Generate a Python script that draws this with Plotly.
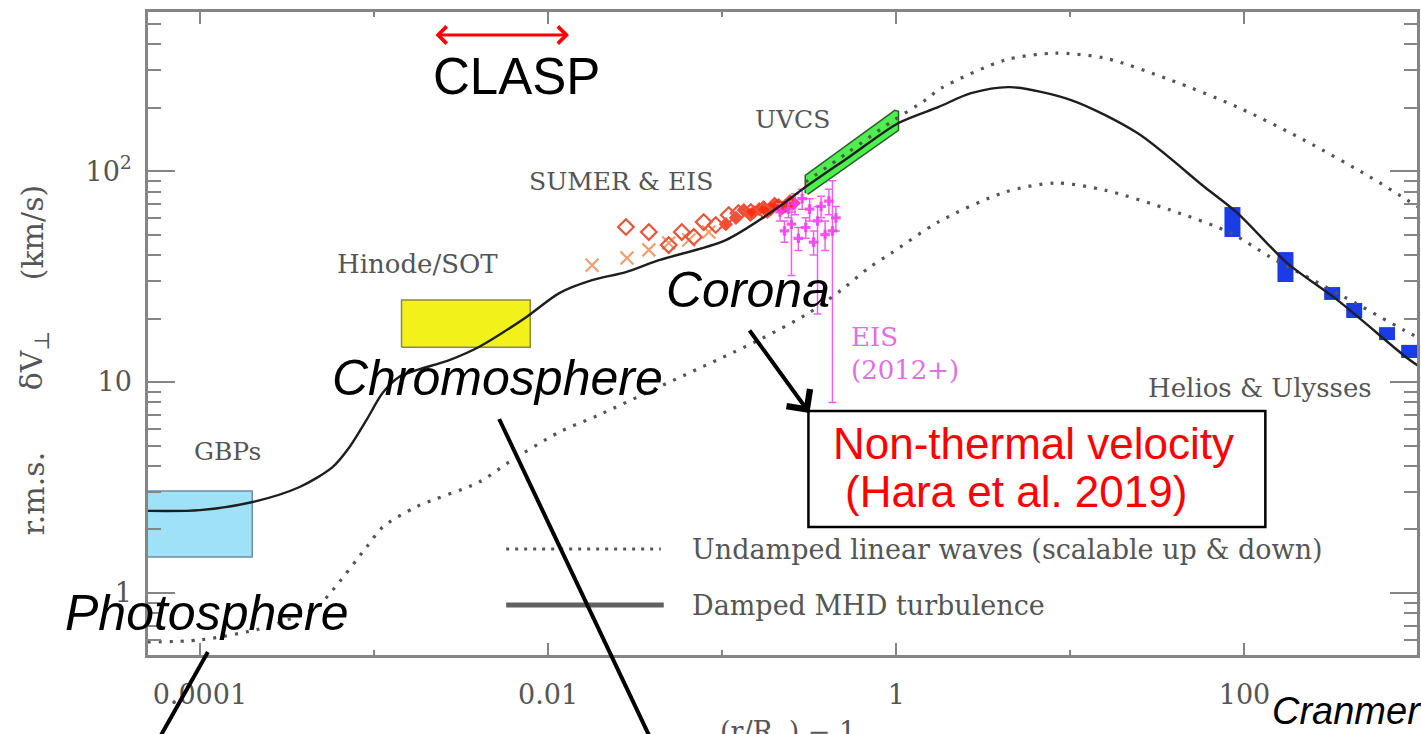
import plotly.graph_objects as go

# ---------------- model curves: (r/R_sun) - 1  vs  rms dV_perp [km/s] ----------------
turb_r = [5.0e-5, 1.0e-4, 2.01e-4, 3.74e-4, 5.78e-4, 7.24e-4, 9.06e-4, 1.12e-3, 1.40e-3,
          2.71e-3, 4.03e-3, 7.48e-3, 0.0116, 0.0179, 0.0280, 0.0433, 0.105, 0.211, 0.301,
          0.531, 1.03, 1.74, 2.69, 4.50, 10.1, 24.4, 59.0, 91.2, 176, 341, 859, 1000]
turb_v = [2.45, 2.47, 2.70, 3.18, 3.95, 4.92, 6.61, 8.87, 10.6,
          12.7, 14.7, 20.3, 26.4, 30.4, 33.2, 37.8, 47.1, 67.5, 84.0,
          116, 169, 201, 234, 250, 217, 151, 84.0, 63.2, 36.6, 24.5, 13.0, 11.9]

wave_lo_r = [5.0e-5, 1.0e-4, 2.42e-4, 4.68e-4, 5.78e-4, 9.06e-4, 1.12e-3, 1.75e-3, 4.03e-3,
             5.98e-3, 0.0116, 0.0196, 0.0433, 0.162, 0.313, 0.484, 0.692, 0.936, 1.74,
             4.22, 8.15, 15.8, 37.7, 83.2, 141, 341, 826, 1000]
wave_lo_v = [0.586, 0.599, 0.690, 0.859, 1.03, 1.65, 2.05, 2.56, 3.36,
             4.18, 5.79, 6.98, 9.47, 15.8, 21.2, 27.3, 34.7, 40.8, 57.3,
             79.5, 87.7, 81.2, 65.3, 50.9, 39.1, 26.4, 17.6, 16.2]

wave_hi_r = [0.301, 0.531, 0.936, 1.47, 1.81, 4.22, 8.15, 15.8, 37.7, 91.2, 221, 527, 859, 1000]
wave_hi_v = [88.7, 123, 171, 217, 247, 336, 362, 343, 270, 201, 140, 93.7, 72.9, 67.5]

# ---------------- observational constraints ----------------
gbp_r = [4.5e-5, 2.0e-4]
gbp_v = [1.48, 3.04]

sot_r = [1.44e-3, 7.9e-3]
sot_v = [14.6, 24.5]

uvcs_r = [0.30, 0.30, 0.33, 0.98, 1.03, 1.03, 0.31]
uvcs_v = [78.5, 95.5, 101, 194, 192, 156, 77.5]

sumer_open_r = [0.0280, 0.0379, 0.0493, 0.0586, 0.0687, 0.0783, 0.0918, 0.109, 0.124, 0.146, 0.173]
sumer_open_v = [54.3, 51.4, 44.6, 51.4, 48.7, 57.3, 55.5, 61.9, 63.2, 63.9, 65.3]

sumer_x_r = [0.0179, 0.0284, 0.0379, 0.0493, 0.0643, 0.0838]
sumer_x_v = [35.8, 38.7, 42.3, 45.6, 47.1, 51.4]

sumer_fill_r = [0.105, 0.120, 0.133, 0.145, 0.152, 0.163, 0.173, 0.182, 0.190, 0.200,
                0.211, 0.222, 0.231, 0.245, 0.257]
sumer_fill_v = [56, 60, 65.3, 62, 63.9, 66, 67.5, 64, 66.1, 70, 69.0, 67, 68.3, 72, 70.5]

eis_r = [0.215, 0.228, 0.240, 0.250, 0.262, 0.274, 0.288, 0.302, 0.318, 0.335, 0.353,
         0.370, 0.390, 0.410, 0.430, 0.450]
eis_v = [64, 52, 66, 56, 70, 48, 74, 54, 66, 46, 58, 68, 50, 72, 52, 60]
eis_lo = [6, 6, 6, 24, 8, 6, 8, 6, 8, 6, 37, 8, 8, 10, 44, 8]
eis_hi = [6, 6, 6, 8, 8, 6, 8, 6, 8, 6, 10, 8, 8, 10, 38, 8]

helios_r = [85.3, 172, 319, 427, 659, 883]
helios_lo = [48.7, 29.8, 24.5, 20.1, 15.8, 13.0]
helios_hi = [67.5, 41.3, 28.2, 23.7, 18.2, 15.0]

# ---------------- axes ----------------
x_major = [1e-4, 1e-2, 1, 100]
x_major_text = ["0.0001", "0.01", "1", "100"]
x_minor = [1e-3, 0.1, 10, 1000]
y_major = [1, 10, 100]
y_major_text = ["1", "10", "10<sup>2</sup>"]
y_minor = [0.6, 0.7, 0.8, 0.9, 2, 3, 4, 5, 6, 7, 8, 9,
           20, 30, 40, 50, 60, 70, 80, 90, 200, 300, 400, 500]

W, H = 1421, 734
ML, MR, MT, MB = 148, 1, 12, 79
PW, PH = W - ML - MR, H - MT - MB


def fx(px):
    return (px - ML) / PW


def fy(py):
    return (H - MB - py) / PH


SERIF = "DejaVu Serif"
SANS = "Liberation Sans, Arial"
GRAY = "#555555"
AXIS = "#858585"

fig = go.Figure()


def box(r, v, fill, edge):
    fig.add_trace(go.Scatter(
        x=[r[0], r[1], r[1], r[0], r[0]], y=[v[0], v[0], v[1], v[1], v[0]],
        mode="lines", fill="toself", fillcolor=fill,
        line=dict(color=edge, width=1.5), hoverinfo="skip"))


box(gbp_r, gbp_v, "#9fe2f8", "#6f8f9a")
box(sot_r, sot_v, "#f2f21a", "#8c8c3a")
fig.add_trace(go.Scatter(x=uvcs_r, y=uvcs_v, mode="lines", fill="toself",
                         fillcolor="#4cf04c", line=dict(color="#2f5f2f", width=1.5)))

# SUMER & EIS
fig.add_trace(go.Scatter(x=sumer_x_r, y=sumer_x_v, mode="markers",
                         marker=dict(symbol="x-thin", size=13, color="#f0a070",
                                     line=dict(color="#f0a070", width=2.2))))
fig.add_trace(go.Scatter(x=sumer_fill_r, y=sumer_fill_v, mode="markers",
                         marker=dict(symbol="diamond", size=11, color="#ff2a10", opacity=0.85,
                                     line=dict(width=0))))
fig.add_trace(go.Scatter(x=sumer_open_r, y=sumer_open_v, mode="markers",
                         marker=dict(symbol="diamond-open", size=12, color="#e8553a",
                                     line=dict(color="#e8553a", width=2.2))))

# EIS (2012+)
fig.add_trace(go.Scatter(
    x=eis_r, y=eis_v, mode="markers",
    marker=dict(symbol="cross", size=8, color="#f03cf0", opacity=0.85, line=dict(width=0)),
    error_y=dict(type="data", symmetric=False, array=eis_hi, arrayminus=eis_lo,
                 color="#f060f0", thickness=1.5, width=4)))

# Helios & Ulysses
hx, hy = [], []
for r, lo, hi in zip(helios_r, helios_lo, helios_hi):
    hx += [r, r, None]
    hy += [lo, hi, None]
fig.add_trace(go.Scatter(x=hx, y=hy, mode="lines", connectgaps=False,
                         line=dict(color="#1a3ce6", width=16)))

# model curves
dot_line = dict(color="#555555", width=3.2, dash="3px,8px", shape="spline", smoothing=0.8)
fig.add_trace(go.Scatter(x=wave_lo_r, y=wave_lo_v, mode="lines", line=dot_line))
fig.add_trace(go.Scatter(x=wave_hi_r, y=wave_hi_v, mode="lines", line=dot_line))
fig.add_trace(go.Scatter(x=turb_r, y=turb_v, mode="lines",
                         line=dict(color="#1e1e1e", width=2.4, shape="spline", smoothing=0.8)))

shapes = []
annotations = []


def text(t, xp, yp, size, color=GRAY, family=SERIF, xanchor="center", angle=0):
    annotations.append(dict(text=t, x=fx(xp), y=fy(yp), xref="paper", yref="paper",
                            xanchor=xanchor, yanchor="middle", showarrow=False,
                            textangle=angle, font=dict(family=family, size=size, color=color)))


def seg(x0, y0, x1, y1, color="black", width=4, dash=None):
    ln = dict(color=color, width=width)
    if dash:
        ln["dash"] = dash
    shapes.append(dict(type="line", xref="paper", yref="paper",
                       x0=fx(x0), y0=fy(y0), x1=fx(x1), y1=fy(y1), line=ln, layer="above"))


# instrument labels
text("GBPs", 228, 452, 25)
text("Hinode/SOT", 418, 264, 26)
text("SUMER &amp; EIS", 622, 182, 25)
text("UVCS", 794, 120, 25)
text("EIS", 851, 337, 26, color="#e070e0", xanchor="left")
text("(2012+)", 851, 370, 26, color="#e070e0", xanchor="left")
text("Helios &amp; Ulysses", 1263, 388, 26)

# key
seg(507, 549, 662, 549, color="#555555", width=3.2, dash="3px,6px")
seg(507, 605, 665, 605, color="#606060", width=5)
text("Undamped linear waves (scalable up &amp; down)", 691, 549, 27, xanchor="left")
text("Damped MHD turbulence", 691, 605, 27, xanchor="left")

# axis titles
text("(km/s)", 33, 232, 30, angle=-90)
text("δV<sub>⊥</sub>", 33, 361, 30, angle=-90)
text("r.m.s.", 33, 493, 30, angle=-90)
text("(r/R<sub>⊙</sub>) − 1", 790, 733, 27)

# region annotations
text("<i>Photosphere</i>", 207, 613, 50, color="black", family=SANS)
text("<i>Chromosphere</i>", 498, 378, 50, color="black", family=SANS)
text("<i>Corona</i>", 749, 290, 50, color="black", family=SANS)
text("CLASP", 517, 77, 51, color="black", family=SANS)
text("<i>Cranmer</i>", 1273, 711, 38, color="black", family=SANS, xanchor="left")

seg(208, 652, 160, 737)
seg(500, 419, 651, 737)

# boxed note
shapes.append(dict(type="rect", xref="paper", yref="paper",
                   x0=fx(810), y0=fy(527), x1=fx(1268), y1=fy(411),
                   line=dict(color="black", width=2.5), fillcolor="white", layer="above"))
text("Non-thermal velocity", 833, 443, 44, color="#ff0000", family=SANS, xanchor="left")
text("(Hara et al. 2019)", 845, 491, 44, color="#ff0000", family=SANS, xanchor="left")

# arrows
annotations.append(dict(x=fx(811), y=fy(413), xref="paper", yref="paper", text="",
                        showarrow=True, ax=-61, ay=-84, axref="pixel", ayref="pixel",
                        arrowhead=4, arrowsize=1.4, arrowwidth=4, arrowcolor="black"))
annotations.append(dict(x=fx(570), y=fy(35), xref="paper", yref="paper", text="",
                        showarrow=True, ax=-135, ay=0, axref="pixel", ayref="pixel",
                        arrowhead=4, startarrowhead=4, arrowside="end+start",
                        arrowsize=1.1, startarrowsize=1.1, arrowwidth=3, arrowcolor="#ff0000"))

axis_common = dict(type="log", showline=True, linecolor=AXIS, linewidth=2.5, mirror="allticks",
                   ticks="inside", tickcolor=AXIS, tickwidth=2, showgrid=False, zeroline=False,
                   tickfont=dict(family=SERIF, size=27, color=GRAY))

fig.update_layout(
    width=W, height=H,
    margin=dict(l=ML, r=MR, t=MT, b=MB, pad=0),
    paper_bgcolor="white", plot_bgcolor="white",
    showlegend=False,
    xaxis=dict(range=[-4.298, 2.991], tickvals=x_major, ticktext=x_major_text, ticklen=12,
               ticklabelstandoff=14,
               minor=dict(tickvals=x_minor, ticks="inside", ticklen=5, tickcolor=AXIS, tickwidth=2),
               **axis_common),
    yaxis=dict(range=[-0.294, 2.754], tickvals=y_major, ticktext=y_major_text, ticklen=27,
               ticklabelstandoff=8,
               minor=dict(tickvals=y_minor, ticks="inside", ticklen=13, tickcolor=AXIS, tickwidth=2),
               **axis_common),
    shapes=shapes,
    annotations=annotations,
)

fig.write_html("out.html")
